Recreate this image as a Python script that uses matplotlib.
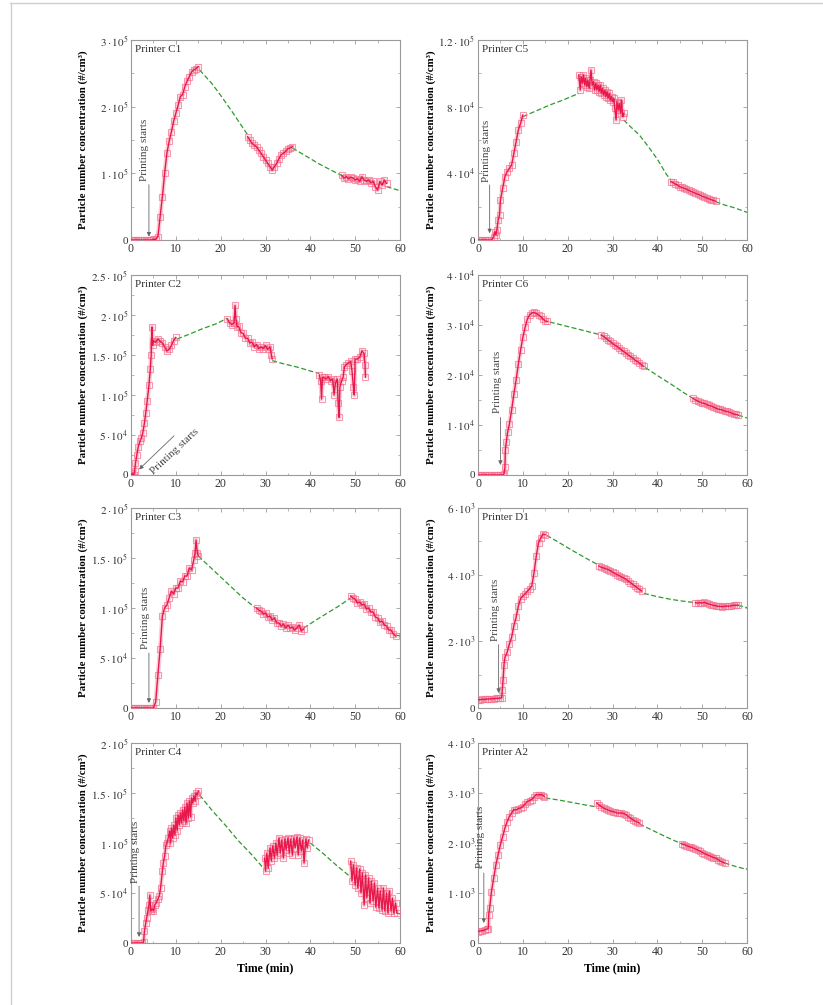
"""Particle number concentration during printing, eight printers."""

import matplotlib

matplotlib.use("Agg")
import matplotlib.pyplot as plt
from matplotlib.lines import Line2D
from matplotlib.ticker import FuncFormatter, MultipleLocator

plt.rcParams["font.family"] = ["Liberation Serif", "DejaVu Serif"]
plt.rcParams["mathtext.fontset"] = "stix"

NAN = float("nan")

# measured series: segments split by NAN, values in units of the panel scale
C1_T = [0, 0.5, 1, 1.5, 2, 2.5, 3, 3.5, 4, 4.5, 5, 5.5, 6, 6.5, 7, 7.5, 8, 8.5, 9, 9.5, 10,
        10.5, 11, 11.5, 12, 12.5, 13, 13.5, 14, 14.5, 15, NAN,
        26, 26.5, 27, 27.5, 28, 28.5, 29, 29.5, 30, 30.5, 31, 31.5, 32, 32.5, 33, 33.5, 34,
        34.5, 35, 35.5, 36, NAN,
        47, 47.5, 48, 48.5, 49, 49.5, 50, 50.5, 51, 51.5, 52, 52.5, 53, 53.5, 54, 54.5, 55,
        55.5, 56, 56.5, 57]
C1_N = [0, 0, 0, 0, 0, 0, 0, 0, 0, 0, 0.01, 0.01, 0.05, 0.35, 0.65, 1.0, 1.3, 1.48, 1.62, 1.78, 1.9,
        2.02, 2.15, 2.18, 2.3, 2.38, 2.45, 2.52, 2.55, 2.57, 2.6, NAN,
        1.55, 1.5, 1.45, 1.42, 1.4, 1.35, 1.3, 1.25, 1.2, 1.15, 1.1, 1.05, 1.1, 1.15, 1.22, 1.28, 1.3,
        1.33, 1.37, 1.38, 1.4, NAN,
        0.97, 0.93, 0.95, 0.92, 0.94, 0.93, 0.9, 0.92, 0.88, 0.95, 0.9, 0.88, 0.9, 0.86, 0.88, 0.8, 0.75,
        0.88, 0.82, 0.9, 0.85]
C1_FIT_T = [15.3, 18, 20, 22.5, 25, 26, NAN, 36, 38, 40, 42, 44, 46, 47, NAN, 57, 58.5, 60]
C1_FIT_N = [2.55, 2.35, 2.17, 1.93, 1.68, 1.58, NAN, 1.38, 1.3, 1.22, 1.14, 1.07, 1.0, 0.97, NAN, 0.8, 0.77, 0.74]

C2_T = [0, 0.3, 0.6, 0.8, 1, 1.3, 1.6, 2, 2.3, 2.6, 3, 3.3, 3.6, 4, 4.3, 4.5, 4.7, 4.8, 5, 5.5, 6,
        6.5, 7, 7.5, 8, 8.5, 9, 9.5, 10, NAN,
        21.5, 22, 22.5, 23, 23.2, 23.4, 23.7, 24, 24.5, 25, 25.5, 26, 26.5, 27, 27.5, 28, 28.5, 29,
        29.5, 30, 30.5, 31, 31.3, 31.5, NAN,
        42, 42.3, 42.5, 42.7, 43, 43.5, 44, 44.5, 45, 45.3, 45.6, 46, 46.2, 46.4, 46.6, 47, 47.3,
        47.6, 48, 48.5, 49, 49.3, 49.6, 49.8, 50, 50.5, 51, 51.5, 52, 52.2, 52.3]
C2_N = [0.0, 0.02, 0.0, 0.05, 0.15, 0.25, 0.35, 0.42, 0.46, 0.52, 0.65, 0.78, 0.92, 1.12, 1.32, 1.5,
        1.85, 1.62, 1.68, 1.66, 1.7, 1.67, 1.65, 1.6, 1.55, 1.57, 1.62, 1.68, 1.72, NAN,
        1.95, 1.9, 1.88, 1.9, 2.12, 1.95, 1.85, 1.86, 1.78, 1.77, 1.71, 1.71, 1.65, 1.66, 1.6, 1.63,
        1.58, 1.6, 1.58, 1.62, 1.57, 1.6, 1.5, 1.45, NAN,
        1.25, 1.18, 0.95, 1.22, 1.22, 1.2, 1.23, 1.18, 1.2, 1.0, 1.15, 1.2, 0.9, 0.72, 1.1, 1.18, 1.22,
        1.35, 1.38, 1.4, 1.42, 1.3, 1.1, 1.0, 1.45, 1.45, 1.47, 1.55, 1.52, 1.38, 1.22]
C2_FIT_T = [10.3, 13, 16, 19, 21.5, NAN, 31.5, 34, 37, 40, 42]
C2_FIT_N = [1.7, 1.76, 1.83, 1.89, 1.96, NAN, 1.43, 1.39, 1.35, 1.3, 1.27]

C3_T = [0, 0.5, 1, 1.5, 2, 2.5, 3, 3.5, 4, 4.5, 5, 5.5, 6, 6.5, 7, 7.5, 8, 8.5, 9, 9.5, 10, 10.5,
        11, 11.5, 12, 12.5, 13, 13.5, 14, 14.3, 14.5, 14.8, 15, NAN,
        28, 28.5, 29, 29.5, 30, 30.5, 31, 31.5, 32, 32.5, 33, 33.5, 34, 34.5, 35, 35.5, 36, 36.5,
        37, 37.5, 38, 38.5, NAN,
        49, 49.5, 50, 50.5, 51, 51.5, 52, 52.5, 53, 53.5, 54, 54.5, 55, 55.5, 56, 56.5, 57, 57.5,
        58, 58.5, 59]
C3_N = [0, 0, 0, 0, 0, 0, 0, 0, 0, 0, 0, 0.06, 0.33, 0.59, 0.92, 1.0, 1.03, 1.1, 1.17, 1.14, 1.2, 1.2,
        1.27, 1.26, 1.32, 1.32, 1.4, 1.38, 1.48, 1.55, 1.68, 1.55, 1.52, NAN,
        1.0, 0.98, 0.97, 0.94, 0.95, 0.91, 0.92, 0.88, 0.9, 0.85, 0.85, 0.82, 0.84, 0.8, 0.83, 0.8,
        0.81, 0.78, 0.8, 0.83, 0.77, 0.79, NAN,
        1.12, 1.1, 1.09, 1.05, 1.06, 1.03, 1.04, 0.99, 1.0, 0.96, 0.96, 0.91, 0.9, 0.86, 0.87, 0.83,
        0.82, 0.78, 0.78, 0.74, 0.72]
C3_FIT_T = [15, 20, 25, 27.8, NAN, 38.5, 42, 46, 49, NAN, 59, 60]
C3_FIT_N = [1.52, 1.31, 1.1, 1.0, NAN, 0.8, 0.9, 1.01, 1.1, NAN, 0.73, 0.72]

C4_T = [0, 0.5, 1, 1.5, 2, 2.5, 2.8, 3, 3.3, 3.5, 3.8, 4, 4.2, 4.4, 4.7, 5, 5.3, 5.6, 6, 6.3, 6.6,
        7, 7.2, 7.5, 7.8, 8, 8.3, 8.6, 8.8, 9, 9.3, 9.5, 9.8, 10, 10.3, 10.5, 10.8, 11, 11.3, 11.5,
        11.8, 12, 12.3, 12.5, 12.8, 13, 13.3, 13.5, 13.8, 14, 14.3, 14.5, 14.8, 15, NAN,
        29.8, 30, 30.3, 30.6, 31, 31.3, 31.6, 32, 32.3, 32.6, 33, 33.3, 33.6, 34, 34.3, 34.6, 35,
        35.3, 35.6, 36, 36.3, 36.6, 37, 37.3, 37.6, 38, 38.3, 38.6, 39, 39.3, 39.6, NAN,
        49, 49.3, 49.6, 50, 50.3, 50.6, 51, 51.3, 51.6, 52, 52.3, 52.6, 53, 53.3, 53.6, 54, 54.3,
        54.6, 55, 55.3, 55.6, 56, 56.3, 56.6, 57, 57.3, 57.6, 58, 58.3, 58.6, 59, 59.3]
C4_N = [0, 0, 0, 0, 0, 0, 0.01, 0.12, 0.2, 0.25, 0.33, 0.38, 0.48, 0.32, 0.34, 0.32, 0.38, 0.4, 0.44,
        0.47, 0.55, 0.72, 0.8, 0.87, 0.98, 1.0, 1.05, 1.12, 1.0, 1.15, 1.05, 1.18, 1.08, 1.25, 1.12,
        1.28, 1.18, 1.3, 1.2, 1.33, 1.22, 1.36, 1.2, 1.4, 1.25, 1.42, 1.26, 1.45, 1.4, 1.47, 1.42,
        1.5, 1.48, 1.52, NAN,
        0.85, 0.72, 0.9, 0.75, 0.95, 0.82, 0.97, 0.85, 1.0, 0.88, 1.05, 0.9, 1.03, 0.85, 1.04, 0.93,
        1.05, 0.9, 1.04, 0.88, 1.05, 0.95, 1.06, 0.88, 1.05, 0.92, 1.03, 0.8, 1.04, 0.95, 1.03, NAN,
        0.82, 0.62, 0.78, 0.58, 0.75, 0.55, 0.74, 0.5, 0.7, 0.38, 0.68, 0.45, 0.65, 0.4, 0.62, 0.42,
        0.6, 0.36, 0.55, 0.35, 0.52, 0.33, 0.55, 0.32, 0.5, 0.3, 0.52, 0.32, 0.45, 0.3, 0.4, 0.3]
C4_FIT_T = [15.3, 18, 21, 24, 27, 29.5, NAN, 40, 43, 46, 49, NAN, 59.3, 60]
C4_FIT_N = [1.48, 1.33, 1.18, 1.02, 0.88, 0.75, NAN, 1.0, 0.89, 0.77, 0.66, NAN, 0.3, 0.29]

C5_T = [0, 0.5, 1, 1.5, 2, 2.5, 3, 3.5, 3.8, 4, 4.2, 4.5, 4.8, 5, 5.5, 6, 6.5, 7, 7.5, 8, 8.5, 9,
        9.5, 10, NAN,
        22.5, 22.8, 23, 23.3, 23.5, 23.8, 24, 24.3, 24.5, 24.8, 25, 25.2, 25.5, 25.8, 26, 26.3,
        26.5, 26.8, 27, 27.3, 27.5, 27.8, 28, 28.3, 28.5, 28.8, 29, 29.3, 29.5, 29.8, 30, 30.3,
        30.5, 30.8, 31, 31.3, 31.5, 31.8, 32, 32.3, 32.5, NAN,
        43, 43.5, 44, 44.5, 45, 45.5, 46, 46.5, 47, 47.5, 48, 48.5, 49, 49.5, 50, 50.5, 51, 51.5,
        52, 52.5, 53]
C5_N = [0, 0, 0, 0, 0, 0, 0, 0.2, 0.5, 0.3, 0.6, 1.2, 1.5, 2.4, 3.1, 3.8, 4.1, 4.3, 4.5, 5.2, 5.9,
        6.6, 7.0, 7.5, NAN,
        9.9, 9.0, 9.8, 9.4, 9.9, 9.3, 9.7, 9.2, 9.6, 9.1, 9.6, 10.2, 9.3, 9.5, 9.0, 9.4,
        9.0, 9.3, 8.9, 9.3, 8.8, 9.1, 8.7, 9.0, 8.6, 8.9, 8.5, 8.8, 8.4, 8.6, 8.3, 8.5,
        7.9, 7.2, 8.3, 7.8, 8.2, 7.6, 8.4, 7.4, 7.6, NAN,
        3.5, 3.45, 3.35, 3.3, 3.2, 3.15, 3.1, 3.05, 2.98, 2.92, 2.86, 2.8, 2.75, 2.7, 2.62, 2.58,
        2.52, 2.47, 2.42, 2.37, 2.33]
C5_FIT_T = [10, 13, 16, 19, 22.5, NAN, 32.5, 34, 36, 38, 40, 42, 43, NAN, 53, 55, 57, 60]
C5_FIT_N = [7.4, 7.75, 8.1, 8.4, 8.8, NAN, 7.2, 6.8, 6.3, 5.6, 4.85, 3.95, 3.6, NAN, 2.3, 2.1, 1.95, 1.66]

C6_T = [0, 0.5, 1, 1.5, 2, 2.5, 3, 3.5, 4, 4.5, 5, 5.5, 5.8, 6, 6.1, 6.3, 6.6, 7, 7.5, 8, 8.5, 9,
        9.5, 10, 10.5, 11, 11.5, 12, 12.5, 13, 13.5, 14, 14.5, 15, 15.5, NAN,
        27.5, 28, 28.5, 29, 29.5, 30, 30.5, 31, 31.5, 32, 32.5, 33, 33.5, 34, 34.5, 35, 35.5, 36,
        36.5, 37, NAN,
        48, 48.5, 49, 49.5, 50, 50.5, 51, 51.5, 52, 52.5, 53, 53.5, 54, 54.5, 55, 55.5, 56, 56.5,
        57, 57.5, 58]
C6_N = [0, 0, 0, 0, 0, 0, 0, 0, 0, 0, 0, 0, 0.02, 0.15, 0.5, 0.65, 0.85, 1.02, 1.3, 1.62, 1.9, 2.22,
        2.5, 2.75, 2.95, 3.12, 3.2, 3.24, 3.25, 3.23, 3.2, 3.17, 3.12, 3.08, 3.07, NAN,
        2.8, 2.77, 2.74, 2.7, 2.67, 2.63, 2.6, 2.57, 2.54, 2.5, 2.47, 2.44, 2.4, 2.37, 2.34, 2.3,
        2.27, 2.24, 2.2, 2.17, NAN,
        1.53, 1.5, 1.48, 1.46, 1.44, 1.43, 1.41, 1.39, 1.38, 1.36, 1.34, 1.32, 1.31, 1.3, 1.28,
        1.27, 1.26, 1.24, 1.22, 1.21, 1.2]
C6_FIT_T = [16, 20, 24, 27.5, NAN, 37.3, 40, 43, 46, 48, NAN, 58, 60]
C6_FIT_N = [3.06, 2.97, 2.88, 2.8, NAN, 2.15, 1.99, 1.82, 1.64, 1.53, NAN, 1.2, 1.14]

D1_T = [0, 0.5, 1, 1.5, 2, 2.5, 3, 3.5, 4, 4.5, 5, 5.3, 5.4, 5.6, 5.8, 6, 6.5, 7, 7.5, 8, 8.5, 9,
        9.5, 10, 10.5, 11, 11.5, 12, 12.5, 13, 13.5, 14, 14.5, 15, NAN,
        27, 27.5, 28, 28.5, 29, 29.5, 30, 30.5, 31, 31.5, 32, 32.5, 33, 33.5, 34, 34.5, 35, 35.5,
        36, 36.5, NAN,
        48.5, 49, 49.5, 50, 50.5, 51, 51.5, 52, 52.5, 53, 53.5, 54, 54.5, 55, 55.5, 56, 56.5, 57,
        57.5, 58]
D1_N = [0.25, 0.25, 0.26, 0.26, 0.27, 0.27, 0.28, 0.28, 0.29, 0.29, 0.3, 0.31, 0.53, 0.85, 1.3, 1.52,
        1.67, 1.92, 2.12, 2.47, 2.72, 3.06, 3.28, 3.36, 3.42, 3.5, 3.57, 3.66, 4.06, 4.56, 4.96,
        5.1, 5.22, 5.2, NAN,
        4.26, 4.22, 4.2, 4.18, 4.15, 4.12, 4.08, 4.04, 4.0, 3.97, 3.93, 3.9, 3.86, 3.81, 3.76, 3.71,
        3.66, 3.61, 3.56, 3.51, NAN,
        3.16, 3.15, 3.16, 3.15, 3.17, 3.14, 3.12, 3.1, 3.08, 3.07, 3.05, 3.05, 3.04, 3.05, 3.06,
        3.05, 3.07, 3.08, 3.08, 3.09]
D1_FIT_T = [15.3, 18, 21, 24, 27, NAN, 37, 40, 43, 46, 48.5, NAN, 58, 60]
D1_FIT_N = [5.18, 4.97, 4.73, 4.5, 4.28, NAN, 3.44, 3.34, 3.26, 3.2, 3.16, NAN, 3.08, 3.01]

A2_T = [0, 0.5, 1, 1.5, 2, 2.3, 2.4, 2.6, 3, 3.5, 4, 4.5, 5, 5.5, 6, 6.5, 7, 7.5, 8, 8.5, 9, 9.5,
        10, 10.5, 11, 11.5, 12, 12.5, 13, 13.5, 14, 14.5, 14.8, NAN,
        26.5, 27, 27.5, 28, 28.5, 29, 29.5, 30, 30.5, 31, 31.5, 32, 32.5, 33, 33.5, 34, 34.5, 35,
        35.5, 36, NAN,
        45.5, 46, 46.5, 47, 47.5, 48, 48.5, 49, 49.5, 50, 50.5, 51, 51.5, 52, 52.5, 53, 53.5, 54,
        54.5, 55]
A2_N = [0.23, 0.24, 0.25, 0.26, 0.28, 0.29, 0.57, 0.7, 1.03, 1.3, 1.57, 1.77, 1.97, 2.13, 2.3, 2.43,
        2.53, 2.6, 2.67, 2.66, 2.69, 2.7, 2.73, 2.78, 2.83, 2.85, 2.87, 2.92, 2.97, 2.96, 2.97,
        2.95, 2.93, NAN,
        2.8, 2.76, 2.73, 2.7, 2.68, 2.66, 2.64, 2.63, 2.62, 2.6, 2.6, 2.6, 2.59, 2.57, 2.53, 2.5,
        2.47, 2.44, 2.42, 2.4, NAN,
        1.98, 1.97, 1.95, 1.93, 1.92, 1.9, 1.88, 1.86, 1.84, 1.81, 1.79, 1.77, 1.75, 1.73, 1.71,
        1.7, 1.67, 1.64, 1.62, 1.6]
A2_FIT_T = [15, 18, 21, 24, 26.5, NAN, 36, 39, 42, 45.5, NAN, 55, 57.5, 60]
A2_FIT_N = [2.9, 2.86, 2.81, 2.76, 2.72, NAN, 2.38, 2.25, 2.12, 1.98, NAN, 1.6, 1.53, 1.47]

FIG_W, FIG_H = 823, 1005
COL_LEFT = [131, 478]
ROW_TOP = [40, 275, 508, 743]
AX_W, AX_H = 269, 200

RED = "#e8184c"
PINK = "#f4708f"
GREEN = "#2e9a2e"
GREY = "#9a9a9a"
YLABEL = "Particle number concentration (#/cm³)"

# title, t, n, fit t, fit n, scale, ymax, major, minor, (col, row), annotation
PANELS = [
    ("Printer C1", C1_T, C1_N, C1_FIT_T, C1_FIT_N, 1e5, 3, 1, 0.5, (0, 0),
     dict(text=(4.1, 0.88), tail=(4.0, 0.83), tip=(4.0, 0.05), rot=90)),
    ("Printer C2", C2_T, C2_N, C2_FIT_T, C2_FIT_N, 1e5, 2.5, 0.5, 0.25, (0, 1),
     dict(text=(5.4, -0.01), tail=(9.6, 0.49), tip=(1.8, 0.07), rot=43)),
    ("Printer C3", C3_T, C3_N, C3_FIT_T, C3_FIT_N, 1e5, 2, 0.5, 0.25, (0, 2),
     dict(text=(4.3, 0.59), tail=(4.0, 0.55), tip=(4.0, 0.05), rot=90)),
    ("Printer C4", C4_T, C4_N, C4_FIT_T, C4_FIT_N, 1e5, 2, 0.5, 0.25, (0, 3),
     dict(text=(2.1, 0.6), tail=(1.8, 0.57), tip=(1.8, 0.06), rot=90)),
    ("Printer C5", C5_T, C5_N, C5_FIT_T, C5_FIT_N, 1e4, 12, 4, 2, (1, 0),
     dict(text=(3.0, 3.5), tail=(2.6, 3.3), tip=(2.6, 0.4), rot=90)),
    ("Printer C6", C6_T, C6_N, C6_FIT_T, C6_FIT_N, 1e4, 4, 1, 0.5, (1, 1),
     dict(text=(5.3, 1.24), tail=(5.0, 1.15), tip=(5.0, 0.2), rot=90)),
    ("Printer D1", D1_T, D1_N, D1_FIT_T, D1_FIT_N, 1e3, 6, 2, 1, (1, 2),
     dict(text=(4.9, 2.0), tail=(4.6, 1.9), tip=(4.6, 0.45), rot=90)),
    ("Printer A2", A2_T, A2_N, A2_FIT_T, A2_FIT_N, 1e3, 4, 1, 0.5, (1, 3),
     dict(text=(1.6, 1.5), tail=(1.3, 1.4), tip=(1.3, 0.4), rot=90)),
]


def sci_label(value, _pos, scale):
    real = value * scale
    if abs(real) < 1e-9:
        return "0"
    exponent = 0
    mantissa = real
    while mantissa >= 10:
        mantissa /= 10
        exponent += 1
    return rf"${mantissa:g}\cdot10^{{{exponent}}}$"


def draw_panel(fig, title, t, n, fit_t, fit_n, scale, ymax, major, minor, cell, note):
    col, row = cell
    left = COL_LEFT[col] / FIG_W
    bottom = 1 - (ROW_TOP[row] + AX_H) / FIG_H
    ax = fig.add_axes([left, bottom, AX_W / FIG_W, AX_H / FIG_H])

    ax.plot(fit_t, fit_n, color=GREEN, lw=0.9, dashes=(4, 2), zorder=2)
    ax.plot(t, n, color=PINK, lw=3.2, alpha=0.35, solid_capstyle="butt", zorder=3)
    ax.plot(t, n, color=PINK, lw=0, marker="s", ms=4.6, mfc="none", mec=PINK, mew=0.8,
            alpha=0.7, zorder=3)
    ax.plot(t, n, color=RED, lw=1.0, zorder=4)

    ax.set_xlim(0, 60)
    ax.set_ylim(0, ymax)
    ax.xaxis.set_major_locator(MultipleLocator(10))
    ax.xaxis.set_minor_locator(MultipleLocator(5))
    ax.yaxis.set_major_locator(MultipleLocator(major))
    ax.yaxis.set_minor_locator(MultipleLocator(minor))
    ax.yaxis.set_major_formatter(FuncFormatter(lambda v, p: sci_label(v, p, scale)))

    for spine in ax.spines.values():
        spine.set_color(GREY)
        spine.set_linewidth(0.8)
    ax.tick_params(which="both", direction="in", top=True, right=True, color=GREY,
                   labelcolor="#333333", pad=2)
    ax.tick_params(which="major", length=3, width=0.6)
    ax.tick_params(which="minor", length=1.8, width=0.5)
    ax.tick_params(axis="x", labelsize=8.5)
    ax.tick_params(axis="y", labelsize=8)

    ax.set_ylabel(YLABEL, fontsize=7.8, fontweight="bold")
    ax.yaxis.set_label_coords(-0.16 if col == 0 else -0.155, 0.5)
    if row == 3:
        ax.set_xlabel("Time (min)", fontsize=8.5, fontweight="bold", labelpad=3)

    ax.text(0.015, 0.975, title, transform=ax.transAxes, ha="left", va="top",
            fontsize=8, color="#333333")

    ax.annotate("", xy=note["tip"], xytext=note["tail"],
                arrowprops=dict(arrowstyle="-|>", color="#666666", lw=0.6,
                                mutation_scale=6, shrinkA=0, shrinkB=0), zorder=5)
    ax.text(*note["text"], "Printing starts", rotation=note["rot"], rotation_mode="anchor",
            ha="left", va="bottom", fontsize=8, color="#444444", zorder=5, clip_on=False)
    return ax


def main():
    fig = plt.figure(figsize=(FIG_W / 100, FIG_H / 100), dpi=100)

    # faint page frame
    fig.add_artist(Line2D([10 / FIG_W, 1], [1 - 3 / FIG_H, 1 - 3 / FIG_H], color="#cfcfcf", lw=1))
    fig.add_artist(Line2D([11 / FIG_W, 11 / FIG_W], [0, 1 - 3 / FIG_H], color="#cfcfcf", lw=1))

    for panel in PANELS:
        draw_panel(fig, *panel)

    fig.savefig("out.png", dpi=100)


if __name__ == "__main__":
    main()
